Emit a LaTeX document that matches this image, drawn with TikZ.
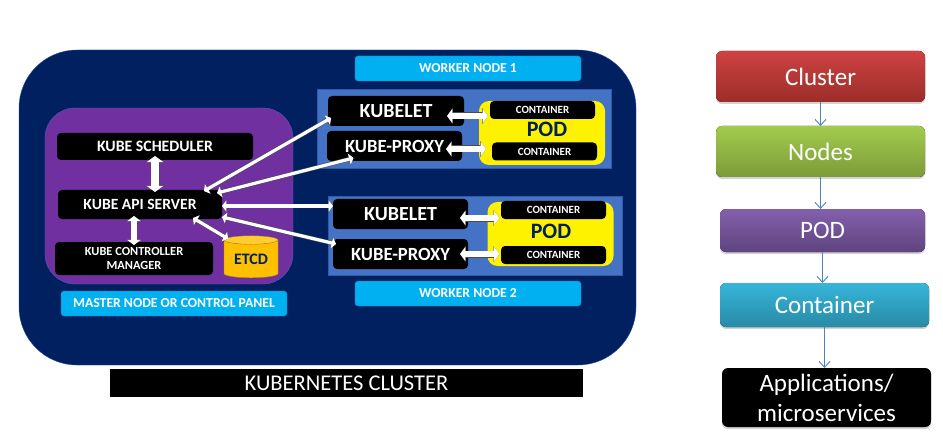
\documentclass[tikz,border=0pt]{standalone}
\usepackage{fontspec}
\setmainfont{Carlito}
\usetikzlibrary{arrows.meta, shapes.geometric, shadows}

\definecolor{navy}{HTML}{002060}
\definecolor{violet}{HTML}{7030A0}
\definecolor{skyblue}{HTML}{00B0F0}
\definecolor{steelblue}{HTML}{4472C4}
\definecolor{linkblue}{HTML}{4F81BD}
\definecolor{gold}{HTML}{FFC000}
\definecolor{clustertop}{HTML}{CE4341}
\definecolor{clusterbot}{HTML}{9C2D2A}
\definecolor{nodestop}{HTML}{A3CB4D}
\definecolor{nodesbot}{HTML}{7C9B39}
\definecolor{podtop}{HTML}{8460AB}
\definecolor{podbot}{HTML}{5F4480}
\definecolor{conttop}{HTML}{36B6DA}
\definecolor{contbot}{HTML}{288AA6}

\tikzset{
    box/.style={rectangle, rounded corners=4pt, fill=black, text=white, inner sep=0pt, outer sep=0pt, align=center, font=\bfseries\fontsize{15.8}{17}\selectfont},
    bigbox/.style={box, font=\bfseries\fontsize{18.6}{21}\selectfont},
    containerbox/.style={box, minimum width=105pt, minimum height=18pt, font=\bfseries\fontsize{11}{13}\selectfont},
    podbox/.style={box, fill=yellow, rounded corners=10pt, minimum width=126pt, minimum height=64pt},
    podlabel/.style={text=navy, font=\bfseries\fontsize{22}{24}\selectfont},
    workerbox/.style={rectangle, fill=steelblue, draw=steelblue!70!navy, minimum width=294pt, minimum height=79pt},
    tag/.style={box, fill=skyblue, draw=skyblue!70!navy, rounded corners=3pt, minimum height=25pt, font=\bfseries\fontsize{13.7}{15}\selectfont},
    level/.style={box, rounded corners=6pt, minimum width=209pt, drop shadow={shadow xshift=0pt, shadow yshift=-2pt, opacity=.35}, font=\fontsize{25}{28}\selectfont},
    fatarrow/.style={line width=#1, white, arrows={Triangle[length=3pt 0.4, width=7pt 1.2]-Triangle[length=3pt 0.4, width=7pt 1.2]},
        preaction={draw=black!70, line width=#1+1pt, arrows={Triangle[length=3pt 0.4, width=7pt 1.2]-Triangle[length=3pt 0.4, width=7pt 1.2]}}},
    fatarrow/.default=3.2pt,
    link/.style={linkblue, line width=.9pt, -{Straight Barb[length=6pt, width=11pt]}}
}

\begin{document}
\begin{tikzpicture}[x=1pt, y=-1pt]
    \useasboundingbox (0, 0) rectangle (943, 441);

    % cluster
    \node[rectangle, fill=navy, draw=steelblue!60!navy, rounded corners=58pt, minimum width=617pt, minimum height=315pt] (cluster) at (327.5, 207.5) {};
    \node[box, rounded corners=0pt, minimum width=473pt, minimum height=28pt, font=\fontsize{22.5}{24}\selectfont] (banner) at (346.5, 383) {KUBERNETES CLUSTER};

    % master node
    \node[rectangle, fill=violet, draw=steelblue!60!violet, rounded corners=30pt, minimum width=248pt, minimum height=176pt] (master) at (169, 196) {};
    \node[tag, minimum width=226pt] (master-tag) at (174, 303.5) {MASTER NODE OR CONTROL PANEL};
    \node[box, minimum width=196pt, minimum height=27pt] (scheduler) at (155, 146.5) {KUBE SCHEDULER};
    \node[box, minimum width=164pt, minimum height=29pt, font=\bfseries\fontsize{15.6}{17}\selectfont] (api) at (140, 204.5) {KUBE API SERVER};
    \node[box, minimum width=158pt, minimum height=33pt, font=\bfseries\fontsize{12.4}{14}\selectfont] (controller) at (134, 258.5) {KUBE CONTROLLER\\MANAGER};
    \node[cylinder, shape border rotate=90, aspect=.25, cylinder uses custom fill, cylinder body fill=gold, cylinder end fill=gold!80!white, draw=gold!70!black, inner sep=0pt, outer sep=0pt, minimum width=54pt, minimum height=42pt, text=navy, font=\bfseries\fontsize{16}{18}\selectfont] (etcd) at (251, 259) {ETCD};

    % worker node 1
    \node[tag, minimum width=226pt] (worker-a-tag) at (468, 68.5) {WORKER NODE 1};
    \node[workerbox] (worker-a) at (464, 128.5) {};
    \node[bigbox, minimum width=136pt, minimum height=30pt, font=\bfseries\fontsize{20}{22}\selectfont] (kubelet-a) at (396, 111) {KUBELET};
    \node[bigbox, minimum width=135pt, minimum height=30pt] (proxy-a) at (394.5, 146) {KUBE-PROXY};
    \node[podbox] (pod-a) at (542, 133) {};
    \node[podlabel] (pod-a-label) at (547, 129) {POD};
    \node[containerbox] (container-a1) at (542.5, 110) {CONTAINER};
    \node[containerbox] (container-a2) at (544.5, 151.5) {CONTAINER};

    % worker node 2
    \node[workerbox] (worker-b) at (475, 235.5) {};
    \node[tag, minimum width=226pt] (worker-b-tag) at (468, 293.5) {WORKER NODE 2};
    \node[bigbox, minimum width=135pt, minimum height=30pt, font=\bfseries\fontsize{20}{22}\selectfont] (kubelet-b) at (400.5, 214) {KUBELET};
    \node[bigbox, minimum width=135pt, minimum height=30pt] (proxy-b) at (400.5, 254) {KUBE-PROXY};
    \node[podbox] (pod-b) at (550.5, 234) {};
    \node[podlabel] (pod-b-label) at (551, 231) {POD};
    \node[containerbox] (container-b1) at (553.5, 210) {CONTAINER};
    \node[containerbox] (container-b2) at (553.5, 255) {CONTAINER};

    % arrows of the master node
    \draw[fatarrow=8pt, shorten <=-2pt, shorten >=-4pt] (api.north -| scheduler.south) -- (scheduler.south);
    \draw[fatarrow=5.5pt, shorten <=-3pt, shorten >=-3pt] (api.south -| controller.north) -- (controller.north);
    \draw[fatarrow] ([xshift=53pt, yshift=1pt]api.south) -- ([xshift=-23pt, yshift=-3pt]etcd.north);

    % arrows to the workers
    \draw[fatarrow] ([xshift=-18pt, yshift=-1pt]api.north east) -- ([xshift=-65pt, yshift=-7pt]kubelet-a.center);
    \draw[fatarrow] ([xshift=-5pt, yshift=-3pt]api.north east) -- ([xshift=-41pt, yshift=-12pt]proxy-a.center);
    \draw[fatarrow] ([yshift=-1.5pt]api.east) -- ([yshift=8pt]kubelet-b.west);
    \draw[fatarrow] ([yshift=-12.5pt]api.east) -- ([xshift=3pt, yshift=10pt]proxy-b.west);

    % arrows to the pods
    \draw[fatarrow=6pt] ([xshift=-17pt, yshift=-5pt]kubelet-a.east) -- ([xshift=9pt, yshift=17pt]pod-a.west);
    \draw[fatarrow=6pt] ([xshift=-16pt, yshift=-3pt]proxy-a.east) -- ([xshift=7pt, yshift=-16pt]pod-a.west);
    \draw[fatarrow=6pt] ([xshift=-8pt, yshift=-4pt]kubelet-b.east) -- ([xshift=12pt, yshift=16pt]pod-b.west);
    \draw[fatarrow=6pt] ([xshift=-8pt]proxy-b.east) -- ([xshift=12pt, yshift=-20pt]pod-b.west);

    % hierarchy on the right
    \node[level, top color=clustertop, bottom color=clusterbot, minimum height=51pt] (level-cluster) at (820.5, 76.5) {Cluster};
    \node[level, top color=nodestop, bottom color=nodesbot, minimum height=51pt] (level-nodes) at (820.5, 151.5) {Nodes};
    \node[level, top color=podtop, bottom color=podbot, minimum width=205pt, minimum height=43pt] (level-pod) at (822.5, 230.5) {POD};
    \node[level, top color=conttop, bottom color=contbot, minimum height=44pt] (level-container) at (824.5, 305) {Container};
    \node[level, fill=black, minimum height=59pt, font=\fontsize{25}{30}\selectfont] (level-apps) at (826.5, 397.5) {Applications/\\microservices};

    \draw[link] (level-cluster.south) -- (level-nodes.north);
    \draw[link] (level-nodes.south) -- (level-nodes.south |- level-pod.north);
    \draw[link] (level-pod.south) -- (level-pod.south |- level-container.north);
    \draw[link] (level-container.south) -- (level-container.south |- level-apps.north);
\end{tikzpicture}
\end{document}
